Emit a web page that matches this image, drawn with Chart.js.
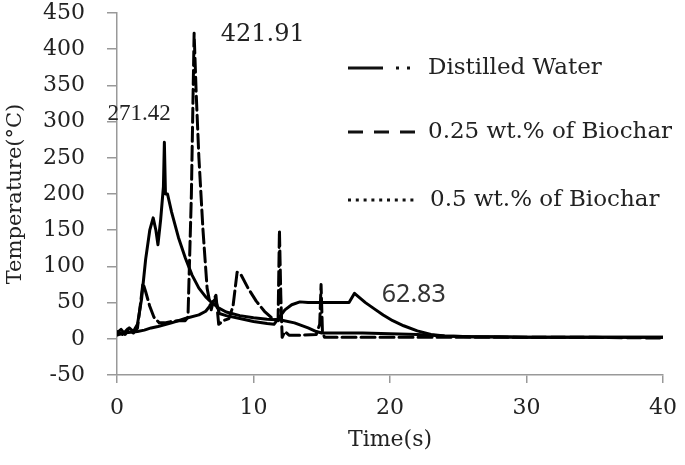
<!DOCTYPE html>
<html>
<head>
<meta charset="utf-8">
<script src="https://cdn.jsdelivr.net/npm/chart.js@4.4.0/dist/chart.umd.min.js"></script>
<style>
  html, body { margin: 0; padding: 0; background: #fff; }
  #wrap { width: 685px; height: 465px; }
</style>
</head>
<body>
<div id="wrap"><canvas id="tempChart" width="685" height="465"></canvas></div>
<script>
// series names (legend order)
var seriesNames = ['Distilled Water', '0.25 wt.% of Biochar', '0.5 wt.% of Biochar'];

// Distilled Water
var timeDW = [0, 0.3, 0.6, 0.9, 1.2, 1.5, 1.8, 2.1, 2.4, 2.65, 2.85, 3.0, 3.2, 3.4, 3.47, 3.55, 3.7, 4.0, 4.5, 5.0, 5.5, 6.0, 6.5, 7.0, 7.5, 8.0, 9.0, 10.0, 11.0, 12.0, 13.0, 14.0, 14.6, 15.0, 16.0, 18.0, 20.0, 22.0, 24.0, 26.0, 30.0, 35.0, 40.0];
var tempDW = [8, 13, 6, 15, 10, 20, 55, 110, 150, 167, 150, 130, 165, 210, 271.42, 200, 200, 175, 140, 112, 88, 70, 58, 49, 42, 37, 32, 29, 27, 26, 22, 15, 10, 8, 8, 8, 7, 6, 4, 3, 2, 2, 2];

// 0.25 wt.% of Biochar
var time025 = [0, 0.4, 0.8, 1.2, 1.5, 1.7, 1.9, 2.1, 2.4, 2.7, 3.1, 3.5, 4.0, 4.5, 5.0, 5.2, 5.45, 5.65, 5.8, 6.0, 6.3, 6.6, 6.9, 7.1, 7.25, 7.45, 7.8, 8.2, 8.5, 8.8, 9.1, 9.6, 10.2, 10.8, 11.4, 11.8, 11.9, 12.0, 12.1, 12.3, 12.6, 13.5, 14.6, 14.85, 14.95, 15.05, 15.2, 17, 20, 25, 30, 35, 40];
var temp025 = [10, 6, 14, 8, 15, 45, 77, 65, 45, 30, 22, 22, 24, 25, 25, 30, 200, 421.91, 340, 250, 150, 70, 40, 55, 60, 20, 25, 28, 45, 92, 88, 70, 52, 38, 28, 25, 150, 60, 2, 10, 5, 5, 6, 20, 75, 10, 2, 2, 2, 2, 2, 2, 1];

// 0.5 wt.% of Biochar
var time05 = [0, 0.5, 1, 1.5, 2, 2.5, 3, 4, 5, 6, 6.5, 7.0, 7.2, 7.5, 8, 9, 10, 11, 11.5, 11.9, 12.3, 12.8, 13.4, 14, 15, 16, 17, 17.4, 17.7, 18.2, 18.8, 19.5, 20.2, 21, 22, 23, 24, 26, 28, 30, 35, 40];
var temp05 = [5, 8, 9, 10, 12, 15, 17, 22, 28, 33, 38, 50, 55, 35, 32, 28, 24, 21, 20, 30, 40, 47, 51, 50, 50, 50, 50, 62.83, 58, 50, 42, 33, 25, 18, 11, 6, 4, 3, 3, 2, 2, 2];

// peak labels
var peakLabels = ['271.42', '421.91', '62.83'];

function toPoints(xs, ys) {
    return xs.map(function (x, i) { return { x: x, y: ys[i] }; });
}

// legend drawn by hand so the line styles match the original
var legendPlugin = {
    id: 'sampleLegend',
    afterDraw: function (chart) {
        var ctx = chart.ctx;
        var rows = [68, 132, 200];
        ctx.save();
        ctx.strokeStyle = '#111';
        ctx.fillStyle = '#111';
        ctx.lineWidth = 3;
        // row 1: dash dot dot
        ctx.beginPath();
        ctx.moveTo(348, rows[0]); ctx.lineTo(383, rows[0]);
        ctx.stroke();
        ctx.fillRect(396, rows[0] - 1.5, 3, 3);
        ctx.fillRect(407, rows[0] - 1.5, 3, 3);
        // row 2: dashes
        ctx.setLineDash([15, 11]);
        ctx.beginPath();
        ctx.moveTo(348, rows[1]); ctx.lineTo(415, rows[1]);
        ctx.stroke();
        ctx.setLineDash([]);
        // row 3: dots
        for (var x = 348; x <= 418; x += 7.8) {
            ctx.fillRect(x, rows[2] - 1.5, 3, 3);
        }
        ctx.font = '23px "DejaVu Serif"';
        ctx.fillStyle = '#222';
        ctx.textBaseline = 'middle';
        ctx.fillText(seriesNames[0], 428, rows[0]);
        ctx.fillText(seriesNames[1], 428, rows[1]);
        ctx.fillText(seriesNames[2], 430, rows[2]);
        ctx.restore();
    }
};

// peak value labels, anchored in data space
var peakPlugin = {
    id: 'peakText',
    afterDatasetsDraw: function (chart) {
        var ctx = chart.ctx;
        var xs = chart.scales.x, ys = chart.scales.y;
        ctx.save();
        ctx.fillStyle = '#222';
        ctx.textBaseline = 'middle';
        ctx.font = '23px "Liberation Serif"';
        ctx.fillText(peakLabels[0], xs.getPixelForValue(-0.7), ys.getPixelForValue(310));
        ctx.font = '24px "DejaVu Serif"';
        ctx.fillText(peakLabels[1], xs.getPixelForValue(7.6), ys.getPixelForValue(420));
        ctx.font = '25px "Noto Sans"';
        ctx.fillStyle = '#333';
        ctx.fillText(peakLabels[2], xs.getPixelForValue(19.4), ys.getPixelForValue(60));
        ctx.restore();
    }
};

var ctx = document.getElementById('tempChart').getContext('2d');
new Chart(ctx, {
    type: 'line',
    data: {
        datasets: [{
            label: seriesNames[0],
            data: toPoints(timeDW, tempDW),
            borderColor: '#000',
            borderWidth: 3
        }, {
            label: seriesNames[1],
            data: toPoints(time025, temp025),
            borderColor: '#000',
            borderWidth: 3,
            borderDash: [14, 5]
        }, {
            label: seriesNames[2],
            data: toPoints(time05, temp05),
            borderColor: '#000',
            borderWidth: 3
        }]
    },
    options: {
        responsive: false,
        animation: false,
        layout: { padding: { left: 3, top: 13, right: 22, bottom: 0 } },
        elements: {
            point: { radius: 0 },
            line: { tension: 0, borderJoinStyle: 'round', borderCapStyle: 'round' }
        },
        plugins: {
            legend: { display: false },
            tooltip: { enabled: false }
        },
        scales: {
            x: {
                type: 'linear',
                min: 0,
                max: 40,
                afterFit: function (s) {
                    s.height = 90;
                    s.paddingLeft = 0;
                    s.paddingRight = 0;
                },
                ticks: {
                    stepSize: 10,
                    padding: 12,
                    color: '#222',
                    font: { family: 'DejaVu Serif', size: 22 }
                },
                grid: { drawOnChartArea: false, tickLength: 8, color: '#999', lineWidth: 1.5 },
                border: { color: '#999', width: 1.5 },
                title: {
                    display: true,
                    text: 'Time(s)',
                    color: '#222',
                    font: { family: 'DejaVu Serif', size: 22 },
                    padding: { top: 4, bottom: 12 }
                }
            },
            y: {
                min: -50,
                max: 450,
                afterFit: function (s) {
                    s.width = 114;
                    s.paddingTop = 0;
                    s.paddingBottom = 0;
                },
                ticks: {
                    stepSize: 50,
                    padding: 22,
                    color: '#222',
                    font: { family: 'DejaVu Serif', size: 22 }
                },
                grid: { drawOnChartArea: false, tickLength: 10, color: '#999', lineWidth: 1.5 },
                border: { color: '#999', width: 1.5 },
                title: {
                    display: true,
                    text: 'Temperature(°C)',
                    color: '#222',
                    font: { family: 'DejaVu Serif', size: 21 },
                    padding: { top: 0, bottom: 0 }
                }
            }
        }
    },
    plugins: [legendPlugin, peakPlugin]
});
</script>
</body>
</html>
